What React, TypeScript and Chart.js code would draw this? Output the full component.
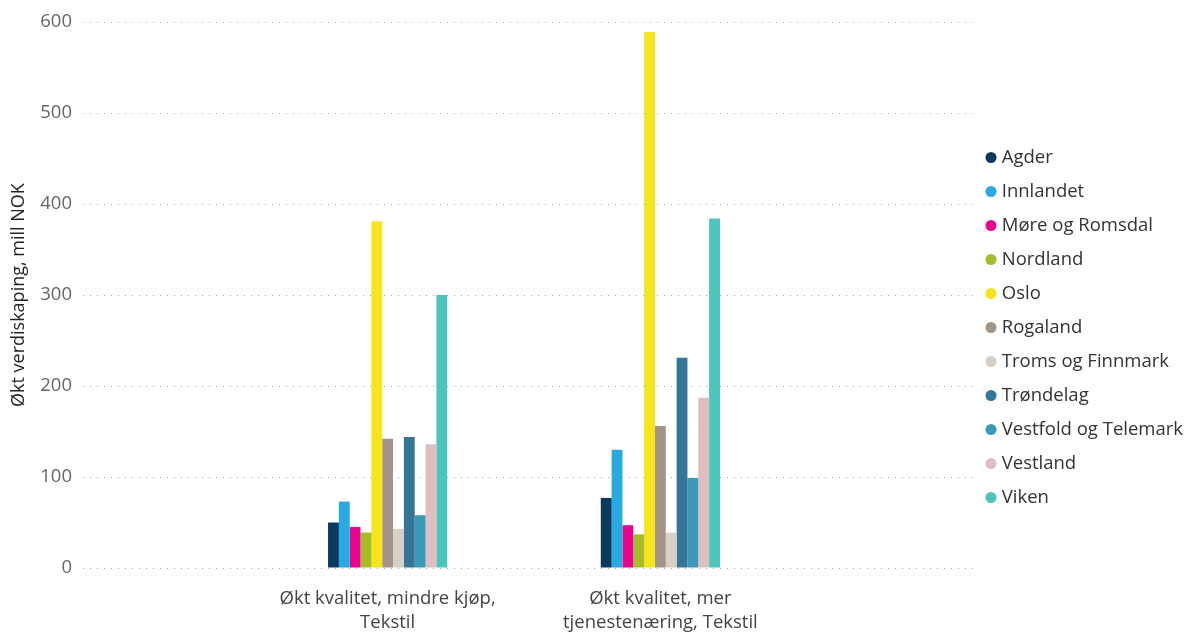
import React, { useEffect, useRef } from "react";
import { Chart, registerables } from "chart.js";

Chart.register(...registerables);

const categories: string[][] = [
  ["Økt kvalitet, mindre kjøp,", "Tekstil"],
  ["Økt kvalitet, mer", "tjenestenæring, Tekstil"],
];

const regions: string[] = [
  "Agder",
  "Innlandet",
  "Møre og Romsdal",
  "Nordland",
  "Oslo",
  "Rogaland",
  "Troms og Finnmark",
  "Trøndelag",
  "Vestfold og Telemark",
  "Vestland",
  "Viken",
];

const regionColors: string[] = [
  "#0A3A5E",
  "#27A9E1",
  "#E8058D",
  "#A3BE27",
  "#F5E51A",
  "#A39489",
  "#D8CFC6",
  "#357598",
  "#3A9BB9",
  "#DEBEC1",
  "#4CC5BD",
];

// values per region: [mindre kjøp, mer tjenestenæring]
const agder = [50, 77];
const innlandet = [73, 130];
const moreOgRomsdal = [45, 47];
const nordland = [39, 37];
const oslo = [381, 589];
const rogaland = [142, 156];
const tromsOgFinnmark = [43, 39];
const trondelag = [144, 231];
const vestfoldOgTelemark = [58, 99];
const vestland = [136, 187];
const viken = [300, 384];

const seriesValues: number[][] = [
  agder,
  innlandet,
  moreOgRomsdal,
  nordland,
  oslo,
  rogaland,
  tromsOgFinnmark,
  trondelag,
  vestfoldOgTelemark,
  vestland,
  viken,
];

const yTicks: number[] = [0, 100, 200, 300, 400, 500, 600];
const yTitle = "Økt verdiskaping, mill NOK";

const FONT = "'Open Sans', 'Noto Sans', sans-serif";

export default function App() {
  const ref = useRef<HTMLCanvasElement>(null);

  useEffect(() => {
    if (!ref.current) return;
    const chart = new Chart(ref.current, {
      type: "bar",
      data: {
        datasets: regions.map((name, i) => ({
          label: name,
          data: seriesValues[i].map((v, c) => ({ x: c + 1, y: v })),
          backgroundColor: regionColors[i],
          borderWidth: 0,
          categoryPercentage: 0.437,
          barPercentage: 1,
        })),
      },
      options: {
        animation: false,
        responsive: false,
        layout: { padding: { top: 22, left: 0, right: 0, bottom: 0 } },
        plugins: {
          tooltip: { enabled: false },
          legend: {
            position: "right",
            align: "center",
            maxWidth: 213,
            labels: {
              usePointStyle: true,
              pointStyle: "circle",
              boxWidth: 3,
              boxHeight: 7.8,
              padding: 15.5,
              color: "#333333",
              font: { family: FONT, size: 18.5 },
            },
          },
        },
        scales: {
          x: {
            type: "linear",
            offset: false,
            bounds: "data",
            min: -0.117,
            max: 3.15,
            grid: { display: false, drawTicks: false },
            border: { display: false },
            afterBuildTicks: (scale: any) => {
              scale.ticks = categories.map((_, i) => ({ value: i + 1 }));
            },
            afterFit: (scale: any) => {
              scale.height = 65;
            },
            ticks: {
              autoSkip: false,
              maxRotation: 0,
              padding: 19,
              color: "#444444",
              font: { family: FONT, size: 18.5, lineHeight: 1.3 },
              callback: (v: any) => categories[Number(v) - 1] ?? "",
            },
          },
          y: {
            min: 0,
            max: 600,
            afterBuildTicks: (scale: any) => {
              scale.ticks = yTicks.map((t) => ({ value: t }));
            },
            afterFit: (scale: any) => {
              scale.width = 83;
            },
            grid: {
              color: "#8FB5CC",
              drawTicks: false,
              lineWidth: 1,
            },
            border: { display: false, dash: [1, 6] },
            ticks: {
              padding: 11,
              color: "#666666",
              font: { family: FONT, size: 18.5 },
            },
            title: {
              display: true,
              text: yTitle,
              color: "#252423",
              font: { family: FONT, size: 18 },
              padding: { top: 8, bottom: 0 },
            },
          },
        },
      },
    });
    return () => chart.destroy();
  }, []);

  return (
    <div style={{ position: "absolute", left: 0, top: 0, width: 1187, height: 633 }}>
      <canvas ref={ref} width={1187} height={633} />
    </div>
  );
}
